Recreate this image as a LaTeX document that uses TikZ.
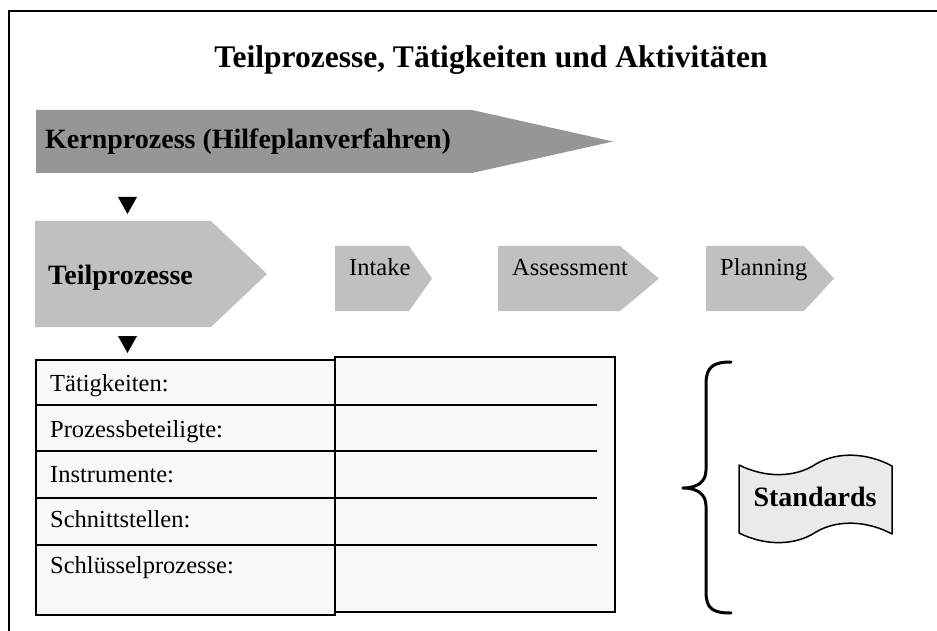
\documentclass[tikz,border=0pt]{standalone}
\usepackage{fontspec}
\setmainfont{Liberation Serif}
\definecolor{coregray}{HTML}{969696}
\definecolor{subgray}{HTML}{C0C0C0}
\definecolor{tablefill}{HTML}{F8F8F8}
\definecolor{flagfill}{HTML}{EAEAEA}
\begin{document}
\begin{tikzpicture}[x=1pt,y=-1pt,
  frameline/.style={line width=2pt,line cap=rect},
  corearrow/.style={fill=coregray},
  subarrow/.style={fill=subgray},
  pointer/.style={fill=black},
  cell/.style={fill=tablefill,draw=black,line width=1.8pt},
  rowline/.style={draw=black,line width=1.6pt},
  bracestyle/.style={draw=black,line width=3pt,line cap=round,line join=round},
  flagstyle/.style={fill=flagfill,draw=black,line width=1.5pt,line join=round},
  titletext/.style={inner sep=0pt,anchor=base,font=\fontsize{31.5}{37}\selectfont\bfseries},
  boldtext/.style={inner sep=0pt,anchor=base west,font=\fontsize{28}{33}\selectfont\bfseries},
  plaintext/.style={inner sep=0pt,anchor=base west,font=\fontsize{24.5}{29}\selectfont},
]
\useasboundingbox (0,0) rectangle (937,631);

% open frame: top edge and left edge only
\draw[frameline] (9,631) -- (9,11) -- (937,11);

% heading
\node[titletext] (title) at (491,68) {Teilprozesse, Tätigkeiten und Aktivitäten};

% core process arrow
\path[corearrow] (36,110) -- (472,110) -- (613,141.5) -- (472,173) -- (36,173) -- cycle;
\node[boldtext] (kern) at (45,149) {Kernprozess (Hilfeplanverfahren)};

% pointer down to the sub-processes
\path[pointer] (118,197) -- (137,197) -- (127.5,214) -- cycle;

% sub-process arrow and its three steps
\path[subarrow] (35,221) -- (211,221) -- (267,274) -- (211,327) -- (35,327) -- cycle;
\node[boldtext] (teil) at (48,284) {Teilprozesse};

\path[subarrow] (335,246) -- (409,246) -- (432,278.5) -- (409,311) -- (335,311) -- cycle;
\node[plaintext] (intake) at (349,276) {Intake};

\path[subarrow] (498,246) -- (620,246) -- (659,278.5) -- (620,311) -- (498,311) -- cycle;
\node[plaintext] (assess) at (512,276) {Assessment};

\path[subarrow] (706,246) -- (804,246) -- (834,278.5) -- (804,311) -- (706,311) -- cycle;
\node[plaintext] (plan) at (720,276) {Planning};

% pointer down to the table
\path[pointer] (118,336) -- (137,336) -- (127.5,353) -- cycle;

% two-column table
\path[cell] (335,357) rectangle (615,612);
\path[cell] (36,360) rectangle (335,615);
\foreach \y in {405,451,498,545}
  \draw[rowline] (36,\y) -- (597,\y);

\node[plaintext] (taet)   at (50,391) {Tätigkeiten:};
\node[plaintext] (beteil) at (50,437) {Prozessbeteiligte:};
\node[plaintext] (instr)  at (50,482) {Instrumente:};
\node[plaintext] (schnitt) at (50,527) {Schnittstellen:};
\node[plaintext] (schluess) at (50,573) {Schlüsselprozesse:};

% curly brace
\draw[bracestyle] (731,362) .. controls (713,362) and (706,367) .. (706,384)
  -- (706,470) .. controls (706,482) and (697,488) .. (683,488)
  .. controls (697,488) and (706,494) .. (706,506)
  -- (706,592) .. controls (706,609) and (713,613) .. (731,613);

% waving flag with the standards
\path[flagstyle] (739,465) .. controls (765,478) and (795,478) .. (816,464)
  .. controls (838,451) and (868,453) .. (892,466)
  -- (892,534) .. controls (868,521) and (838,519) .. (816,532)
  .. controls (795,546) and (765,546) .. (739,533) -- cycle;
\node[inner sep=0pt,anchor=base,font=\fontsize{28}{33}\selectfont\bfseries] (std) at (815,506) {Standards};
\end{tikzpicture}
\end{document}
